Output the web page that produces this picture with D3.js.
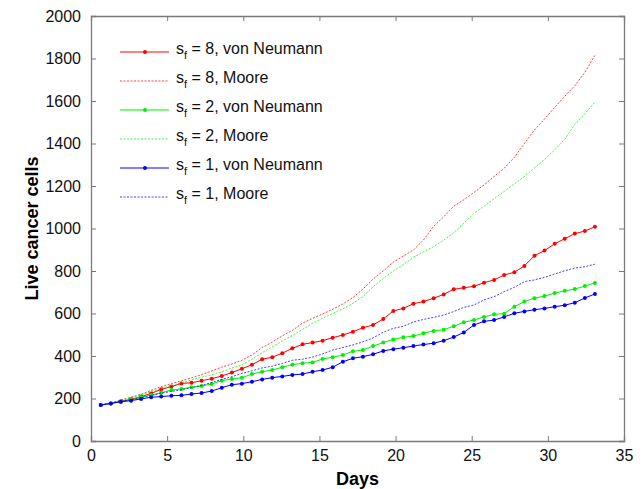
<!DOCTYPE html>
<html>
<head>
<meta charset="utf-8">
<script src="https://cdn.jsdelivr.net/npm/d3@7"></script>
<style>
  body { margin: 0; background: #fff; }
  svg { display: block; font-family: "Liberation Sans", Arial, sans-serif; }
</style>
</head>
<body>
<svg id="chart" width="644" height="489"></svg>
<script>
// sample times (days)
const days = [0.64, 1.30, 1.96, 2.63, 3.29, 3.95, 4.61, 5.28, 5.94, 6.60,
  7.26, 7.93, 8.59, 9.25, 9.91, 10.57, 11.24, 11.90, 12.56, 13.22,
  13.89, 14.55, 15.21, 15.87, 16.54, 17.20, 17.86, 18.52, 19.19, 19.85,
  20.51, 21.17, 21.83, 22.50, 23.16, 23.82, 24.48, 25.15, 25.81, 26.47,
  27.13, 27.80, 28.46, 29.12, 29.78, 30.45, 31.11, 31.77, 32.43, 33.09];

const vnRed = [169, 177, 187, 196, 209, 224, 243, 256, 271, 274, 284, 293, 306, 322, 340, 359, 385, 394, 413, 436,
  455, 463, 472, 486, 499, 514, 533, 546, 574, 612, 624, 646, 656, 672, 690, 714, 721, 728, 745, 758,
  781, 794, 824, 872, 896, 928, 952, 976, 988, 1008];
const mooreRed = [169, 180, 193, 206, 220, 238, 256, 270, 283, 297, 312, 330, 348, 362, 380, 405, 440, 465, 495, 520,
  555, 577, 598, 620, 645, 675, 715, 762, 800, 842, 870, 899, 946, 1010, 1055, 1105, 1135, 1170, 1205, 1245,
  1283, 1335, 1400, 1464, 1515, 1570, 1622, 1672, 1735, 1815];
const vnGreen = [169, 177, 184, 193, 206, 216, 227, 240, 245, 253, 259, 268, 284, 292, 298, 315, 326, 334, 347, 359,
  366, 370, 386, 394, 405, 422, 428, 447, 463, 478, 488, 494, 507, 518, 524, 540, 559, 569, 584, 596,
  599, 632, 656, 672, 682, 696, 707, 715, 729, 744];
const mooreGreen = [169, 179, 191, 203, 216, 232, 248, 262, 274, 287, 300, 312, 325, 343, 358, 385, 415, 444, 470, 497,
  525, 554, 578, 600, 622, 648, 680, 726, 765, 800, 830, 865, 890, 915, 945, 980, 1025, 1071, 1105, 1140,
  1175, 1210, 1245, 1285, 1325, 1370, 1420, 1490, 1540, 1595];
const vnBlue = [169, 177, 185, 190, 198, 206, 209, 213, 215, 221, 226, 235, 251, 265, 270, 279, 290, 298, 304, 311,
  315, 326, 334, 347, 373, 389, 397, 408, 424, 432, 439, 447, 454, 460, 472, 489, 511, 546, 563, 569,
  584, 601, 610, 618, 624, 632, 639, 651, 673, 692];
const mooreBlue = [169, 177, 185, 194, 203, 214, 225, 233, 241, 251, 262, 275, 290, 303, 318, 330, 344, 352, 365, 380,
  385, 395, 410, 428, 440, 452, 467, 485, 512, 530, 540, 560, 572, 582, 593, 609, 629, 640, 664, 679,
  703, 723, 750, 758, 770, 786, 801, 814, 820, 832];

const xTicks = [0, 5, 10, 15, 20, 25, 30, 35];
const yTicks = [0, 200, 400, 600, 800, 1000, 1200, 1400, 1600, 1800, 2000];

const series = [
  { sf: "8", hood: "von Neumann", values: vnRed, color: "#ff0000", dotted: false },
  { sf: "8", hood: "Moore", values: mooreRed, color: "#ff0000", dotted: true },
  { sf: "2", hood: "von Neumann", values: vnGreen, color: "#00f000", dotted: false },
  { sf: "2", hood: "Moore", values: mooreGreen, color: "#00f000", dotted: true },
  { sf: "1", hood: "von Neumann", values: vnBlue, color: "#0000ff", dotted: false },
  { sf: "1", hood: "Moore", values: mooreBlue, color: "#0000ff", dotted: true }
];

const margin = { top: 16, right: 20, bottom: 48, left: 91 };
const W = 644, H = 489;
const width = W - margin.left - margin.right;
const height = H - margin.top - margin.bottom;

const svg = d3.select("#chart");
const g = svg.append("g").attr("transform", `translate(${margin.left},${margin.top})`);

const x = d3.scaleLinear().domain([0, 35]).range([0, width]);
const y = d3.scaleLinear().domain([0, 2000]).range([height, 0]);

const axisColor = "#7a7a7a";

// bottom + left with labels, top + right just ticks (box)
g.append("g")
  .attr("transform", `translate(0,${height})`)
  .call(d3.axisBottom(x).tickValues(xTicks).tickSize(-5).tickPadding(9).tickFormat(d3.format("d")));
g.append("g")
  .call(d3.axisLeft(y).tickValues(yTicks).tickSize(-5).tickPadding(10).tickFormat(d3.format("d")));
g.append("g")
  .call(d3.axisTop(x).tickValues(xTicks).tickSize(-5).tickFormat(""));
g.append("g")
  .attr("transform", `translate(${width},0)`)
  .call(d3.axisRight(y).tickValues(yTicks).tickSize(-5).tickFormat(""));

g.selectAll(".domain").attr("stroke", axisColor).attr("stroke-width", 1.3);
g.selectAll(".tick line").attr("stroke", axisColor);
g.selectAll(".tick text").attr("fill", "#111").style("font-size", "16px");

const line = d3.line()
  .x((d, i) => x(days[i]))
  .y(d => y(d));

series.forEach(s => {
  g.append("path")
    .datum(s.values)
    .attr("fill", "none")
    .attr("stroke", s.color)
    .attr("stroke-width", 1)
    .attr("stroke-opacity", s.dotted ? 0.75 : 1)
    .attr("stroke-dasharray", s.dotted ? "2,1.5" : null)
    .attr("d", line);
  if (!s.dotted) {
    g.append("g").selectAll("circle")
      .data(s.values)
      .join("circle")
      .attr("cx", (d, i) => x(days[i]))
      .attr("cy", d => y(d))
      .attr("r", 2)
      .attr("fill", s.color);
  }
});

// legend
const legend = g.append("g").attr("transform", "translate(29,36)");
series.forEach((s, i) => {
  const row = legend.append("g").attr("transform", `translate(0,${i * 29})`);
  row.append("line")
    .attr("x1", 0).attr("x2", 49)
    .attr("stroke", s.color)
    .attr("stroke-width", 1)
    .attr("stroke-opacity", s.dotted ? 0.75 : 1)
    .attr("stroke-dasharray", s.dotted ? "2,1.5" : null);
  if (!s.dotted) {
    row.append("circle").attr("cx", 25).attr("r", 2).attr("fill", s.color);
  }
  const t = row.append("text")
    .attr("x", 56).attr("y", 2)
    .attr("fill", "#111")
    .style("font-size", "16px");
  t.append("tspan").text("s");
  t.append("tspan").attr("dy", 5).style("font-size", "11px").text("f");
  t.append("tspan").attr("dy", -5).text(` = ${s.sf}, ${s.hood}`);
});

// axis titles
svg.append("text")
  .attr("x", margin.left + x(17.5))
  .attr("y", 485)
  .attr("text-anchor", "middle")
  .style("font-size", "18px")
  .style("font-weight", "bold")
  .text("Days");

svg.append("text")
  .attr("transform", `translate(38,${margin.top + height / 2}) rotate(-90)`)
  .attr("text-anchor", "middle")
  .style("font-size", "18px")
  .style("font-weight", "bold")
  .text("Live cancer cells");
</script>
</body>
</html>
